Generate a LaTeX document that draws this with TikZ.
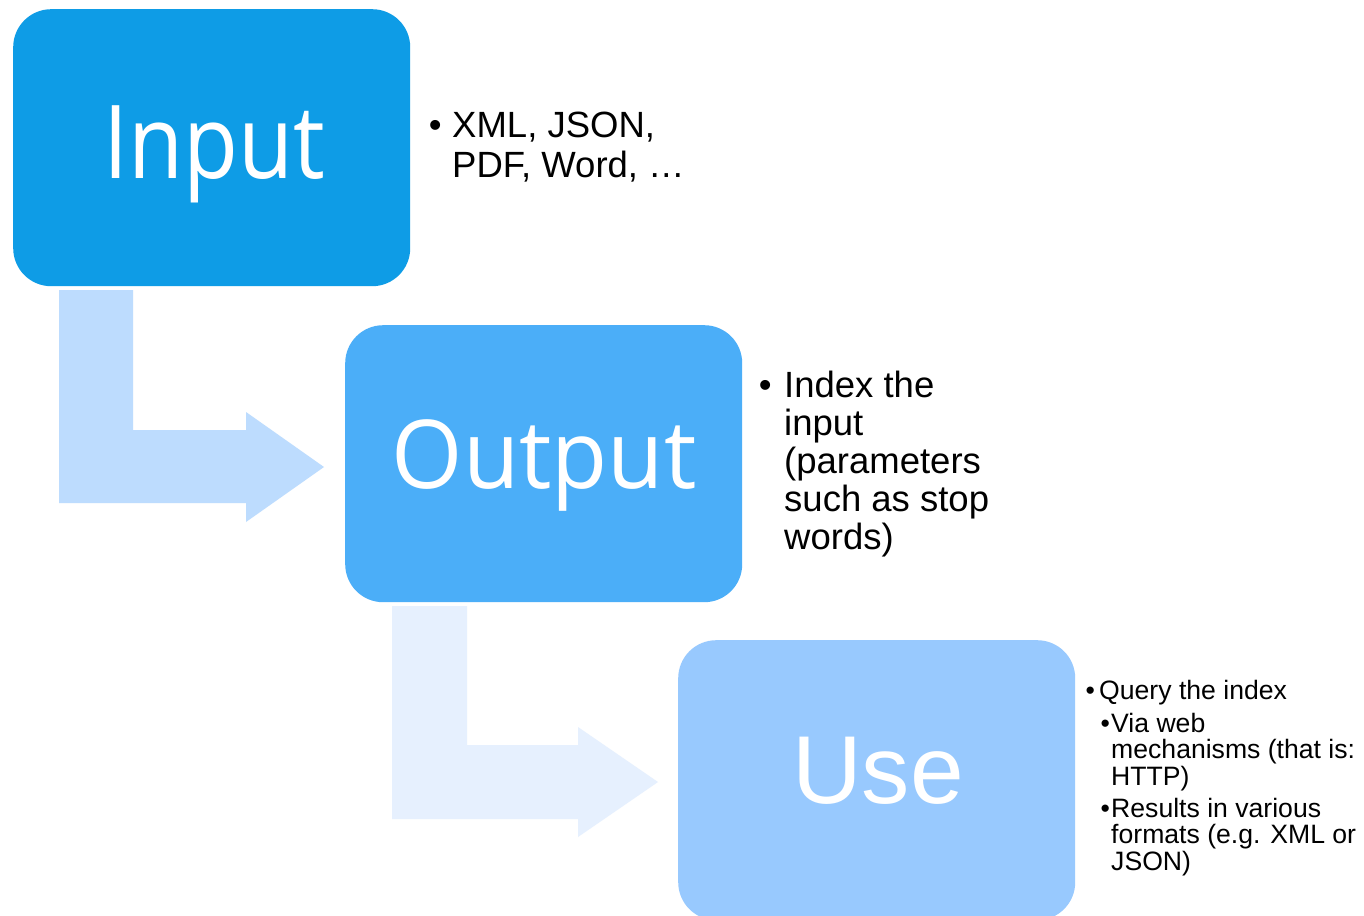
\documentclass[tikz,border=0pt]{standalone}
\usepackage{fontspec}
\setmainfont{Liberation Sans}
\newfontfamily\labelfont{Open Sans}
\definecolor{stepA}{HTML}{0E9CE6}
\definecolor{stepB}{HTML}{4BAEF8}
\definecolor{stepC}{HTML}{98C9FE}
\definecolor{flowA}{HTML}{BDDCFE}
\definecolor{flowB}{HTML}{E6F0FE}
\begin{document}
\begin{tikzpicture}[x=1pt,y=-1pt,
  stepbox/.style={rounded corners=38pt, minimum width=397pt, minimum height=277pt,
    anchor=north west, inner sep=0pt, draw=none},
  steplabel/.style={anchor=base, text=white, inner sep=0pt},
  bodytext/.style={anchor=base west, inner sep=0pt, text=black,
    font=\fontsize{36.5}{38}\selectfont},
  smalltext/.style={anchor=base west, inner sep=0pt, text=black,
    font=\fontsize{26.6}{27}\selectfont},
]
\useasboundingbox (0,0) rectangle (1364,915);
\fill[white] (0,0) rectangle (1364,915);

% bent block arrows between the steps
\fill[flowA] (59,290) -- (133,290) -- (133,430) -- (246,430) -- (246,412)
  -- (324,467) -- (246,522) -- (246,503) -- (59,503) -- cycle;
\fill[flowB] (392,606) -- (467,606) -- (467,745) -- (578,745) -- (578,727)
  -- (658,782) -- (578,837) -- (578,819) -- (392,819) -- cycle;

% step boxes
\node[stepbox, fill=stepA] (input) at (13,9) {};
\node[stepbox, fill=stepB] (output) at (345,325) {};
\node[stepbox, fill=stepC, minimum height=280pt] (use) at (678,640) {};

% step titles
\node[steplabel, font=\labelfont\fontsize{102}{102}\selectfont, xscale=0.88] (inputlbl) at (214,178) {Input};
\node[steplabel, font=\labelfont\fontsize{95}{95}\selectfont, xscale=0.965] (outputlbl) at (544,488) {Output};
\node[steplabel, font=\fontsize{96.5}{96.5}\selectfont] (uselbl) at (878,803) {Use};

% notes beside Input
\node[bodytext] (b1) at (428.6,138) {•};
\node[bodytext] (t1a) at (452,138) {XML, JSON,};
\node[bodytext] (t1b) at (452,177) {PDF, Word, …};

% notes beside Output
\node[bodytext] (b2) at (758.6,397) {•};
\node[bodytext] (t2a) at (784,397) {Index the};
\node[bodytext] (t2b) at (784,435) {input};
\node[bodytext] (t2c) at (784,473) {(parameters};
\node[bodytext] (t2d) at (784,511) {such as stop};
\node[bodytext] (t2e) at (784,549) {words)};

% notes beside Use
\node[smalltext] (b3) at (1085.3,699) {•};
\node[smalltext] (t3a) at (1099,699) {Query the index};
\node[smalltext] (b4) at (1100.3,732) {•};
\node[smalltext] (t4a) at (1111,732) {Via web};
\node[smalltext] (t4b) at (1111,758.5) {mechanisms (that is:};
\node[smalltext] (t4c) at (1111,785) {HTTP)};
\node[smalltext] (b5) at (1100.3,817) {•};
\node[smalltext] (t5a) at (1111,817) {Results in various};
\node[smalltext] (t5b) at (1111,843.5) {formats (e.g. XML or};
\node[smalltext] (t5c) at (1111,870) {JSON)};
\end{tikzpicture}
\end{document}
